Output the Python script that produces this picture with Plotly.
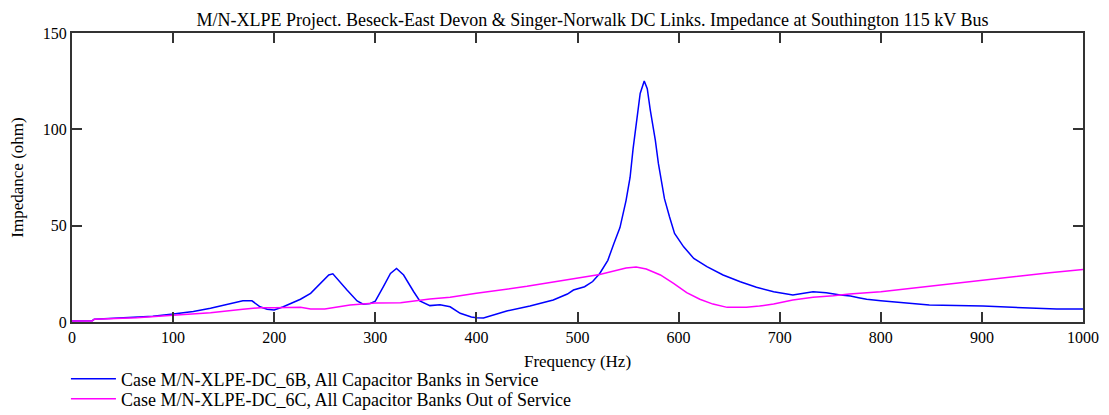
import plotly.graph_objects as go

# Frequencies (Hz) and impedances (ohm)
freq_6b = [0, 20, 22, 60, 80, 100, 120, 137, 155, 169, 178, 186, 193, 200, 209, 218, 226,
           236, 246, 254, 258, 263, 272, 282, 288, 295, 300, 308, 315, 321, 328, 338, 344,
           354, 364, 374, 384, 395, 400, 407, 430, 453, 476, 490, 496, 507, 515, 522, 530,
           536, 542, 548, 552, 555, 559, 562, 566, 569, 572, 577, 580, 586, 591, 596, 605,
           615, 628, 644, 661, 677, 694, 713, 733, 746, 760, 770, 778, 786, 800, 819, 848,
           901, 934, 974, 1000]
z_6b = [0.5, 0.7, 1.4, 2.2, 3.0, 4.1, 5.5, 7.1, 9.5, 11.0, 11.0, 7.9, 6.6, 6.2, 7.9, 10.0, 11.8,
        14.9, 20.1, 24.4, 25.0, 21.8, 16.6, 10.9, 9.2, 9.6, 10.8, 18.3, 25.2, 27.8, 24.4, 15.7, 10.9,
        8.5, 9.0, 7.9, 4.5, 2.6, 2.2, 2.1, 5.7, 8.3, 11.4, 14.5, 16.6, 18.3, 21.0, 25.2, 32.0,
        40.8, 49.0, 63.0, 75.0, 90.0, 108.0, 118.6, 125.1, 121.1, 110.0, 94.3, 82.3, 64.0, 54.6, 46.0, 39.0,
        33.0, 28.7, 24.4, 20.9, 18.0, 15.7, 14.0, 15.7, 15.2, 14.0, 13.5, 12.6, 11.8, 11.0, 10.2, 8.8,
        8.3, 7.4, 6.7, 6.7]

freq_6c = [0, 20, 22, 64, 100, 137, 169, 186, 200, 210, 226, 236, 250, 275, 300, 325, 354, 374,
           400, 450, 496, 522, 548, 558, 568, 582, 595, 608, 621, 634, 648, 667, 680, 694, 713,
           733, 753, 769, 800, 835, 868, 901, 934, 967, 1000]
z_6c = [0.5, 0.5, 1.4, 2.2, 3.5, 4.8, 6.6, 7.4, 7.4, 7.6, 7.6, 6.7, 6.8, 8.8, 9.9, 10.0, 11.9, 12.8,
        14.9, 18.5, 22.3, 24.7, 28.0, 28.6, 27.5, 24.4, 20.1, 15.2, 11.8, 9.3, 7.6, 7.6, 8.3, 9.3, 11.4,
        12.8, 13.6, 14.5, 15.7, 17.8, 19.5, 21.8, 23.5, 25.6, 27.3]

name_6b = "Case M/N-XLPE-DC_6B, All Capacitor Banks in Service"
name_6c = "Case M/N-XLPE-DC_6C, All Capacitor Banks Out of Service"
title_text = "M/N-XLPE Project. Beseck-East Devon & Singer-Norwalk DC Links. Impedance at Southington 115 kV Bus"
x_ticks = [0, 100, 200, 300, 400, 500, 600, 700, 800, 900, 1000]
y_ticks = [0, 50, 100, 150]

FONT = "Liberation Serif"

fig = go.Figure()
fig.add_trace(go.Scatter(x=freq_6b, y=z_6b, mode="lines", name=name_6b, legend="legend",
                         line=dict(color="#0000ff", width=1.5)))
fig.add_trace(go.Scatter(x=freq_6c, y=z_6c, mode="lines", name=name_6c, legend="legend2",
                         line=dict(color="#ff00ff", width=1.5)))

axis_common = dict(showgrid=False, zeroline=False, showline=True, linecolor="#333333",
                   linewidth=2, ticks="inside", ticklen=10, tickwidth=1.5, tickcolor="#333333",
                   mirror="ticks", automargin=False,
                   tickfont=dict(family=FONT, size=16, color="black"))

fig.update_xaxes(range=[0, 1000], tickvals=x_ticks, ticktext=[str(v) for v in x_ticks],
                 title=dict(text="Frequency (Hz)", font=dict(family=FONT, size=17, color="black"),
                            standoff=10),
                 **axis_common)
fig.update_yaxes(range=[0, 150], tickvals=y_ticks, ticktext=[str(v) for v in y_ticks],
                 title=dict(text="Impedance (ohm)", font=dict(family=FONT, size=17, color="black"),
                            standoff=19),
                 **axis_common)

legend_common = dict(x=-0.006, xanchor="left", yanchor="middle", orientation="v",
                     font=dict(family=FONT, size=18, color="black"), bgcolor="rgba(0,0,0,0)",
                     itemwidth=45)

fig.update_layout(
    width=1109, height=415,
    margin=dict(l=64, r=34, t=25, b=101, autoexpand=False),
    paper_bgcolor="white", plot_bgcolor="white",
    title=dict(text=title_text, x=0.527, xanchor="center", y=1 - 12 / 415, yanchor="middle",
               font=dict(family=FONT, size=18, color="black")),
    showlegend=True,
    legend=dict(y=-(379 - 322) / 289, **legend_common),
    legend2=dict(y=-(399 - 322) / 289, **legend_common),
)

fig.write_html("out.html")
